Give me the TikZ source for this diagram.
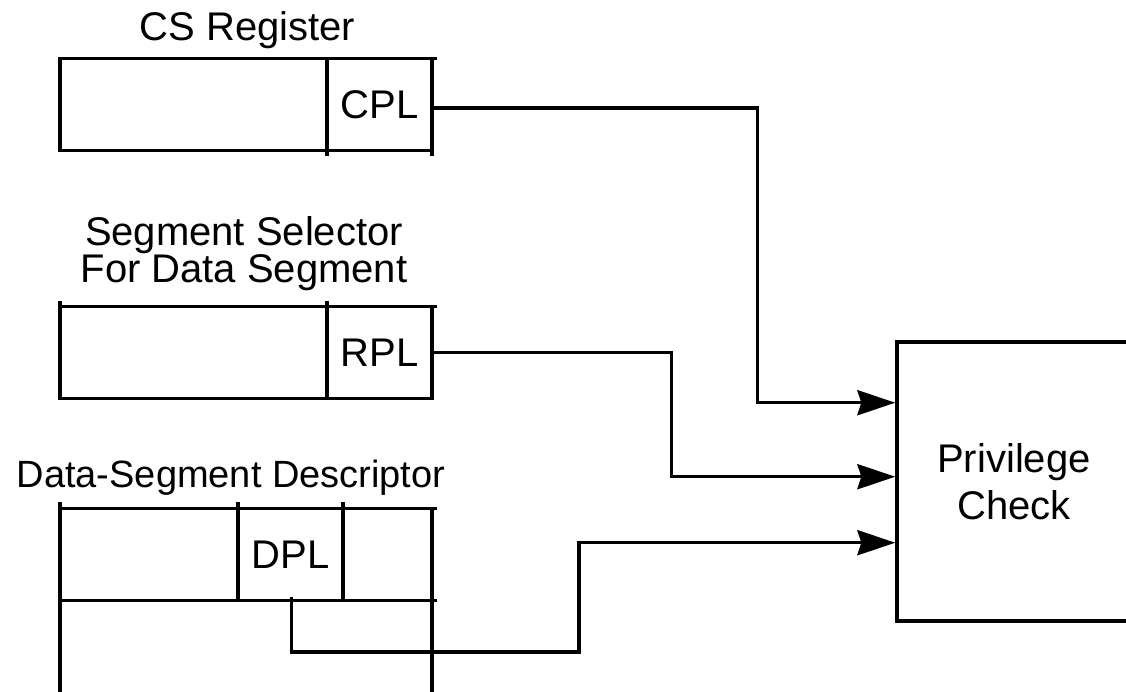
\documentclass[tikz,border=0pt]{standalone}
\usepackage{fontspec}
\setmainfont{Liberation Sans}
\usetikzlibrary{arrows.meta}
\begin{document}
\begin{tikzpicture}[x=1pt,y=-1pt,
  every node/.style={inner sep=0pt},
  lbl/.style={font=\fontsize{40}{37}\selectfont, align=center},
  field/.style={draw, line width=3.3pt, outer sep=0pt, minimum height=92.5pt,
                font=\fontsize{40}{40}\selectfont},
  wire/.style={line width=3.3pt},
  conn/.style={wire, -{Stealth[length=38pt, width=25pt, inset=4pt]}}]
\useasboundingbox (0,0) rectangle (1126,691);

% CS register
\node[lbl, anchor=base] (cslbl) at (247.5,40) {CS Register};
\node[field, minimum width=267pt] (csrest) at (193.5,104.5) {};
\node[field, minimum width=105pt] (cpl) at (379.5,104.5) {CPL};
\draw[wire] (cpl.south west) -- ++(0,5);
\draw[wire] (cpl.south east) -- ++(0,5);
\draw[wire] (cpl.north east) -- ++(5,0);

% Segment selector
\node[lbl] (sellbl) at (244,254) {Segment Selector\\For Data Segment};
\node[field, minimum width=267pt] (selrest) at (193.5,352.5) {};
\node[field, minimum width=105pt] (rpl) at (379.5,352.5) {RPL};
\draw[wire] (selrest.north west) -- ++(0,-5);
\draw[wire] (rpl.north west) -- ++(0,-5);
\draw[wire] (rpl.north east) -- ++(5,0);

% Data-segment descriptor
\node[font=\fontsize{38}{38}\selectfont, anchor=base] (dlbl) at (231,487) {Data-Segment Descriptor};
\node[field, minimum width=178pt] (dleft) at (149,554.5) {};
\node[field, minimum width=105pt] (dpl) at (290.5,554.5) {DPL};
\node[field, minimum width=89pt] (dright) at (387.5,554.5) {};
\draw[wire] (dleft.north west) -- ++(0,-6);
\draw[wire] (dpl.north west) -- ++(0,-6);
\draw[wire] (dpl.north east) -- ++(0,-6);
\draw[wire] (dright.north east) -- ++(5,0);
\draw[wire] (dright.south east) -- ++(5,0);
\draw[wire] (dleft.south west) -- ++(0,95);
\draw[wire] (dright.south east) -- ++(0,95);

% Privilege check
\node[draw, line width=3.3pt, minimum width=234pt, minimum height=279pt,
      font=\fontsize{40}{47}\selectfont, align=center] (pc) at (1014,481.5) {Privilege\\Check};

% connectors
\coordinate (c1) at (757.7,402.7);
\coordinate (c2) at (671.7,476.7);
\coordinate (c3) at (579,652);
\coordinate (c4) at (579,542.7);
\draw[conn] ([yshift=-3.5pt]cpl.east) -| (c1) -- (c1 -| pc.west);
\draw[conn] (rpl.east) -| (c2) -- (c2 -| pc.west);
\draw[conn] ([xshift=1pt,yshift=4pt]dpl.south) |- (c3) -- (c4) -- (c4 -| pc.west);
\end{tikzpicture}
\end{document}
